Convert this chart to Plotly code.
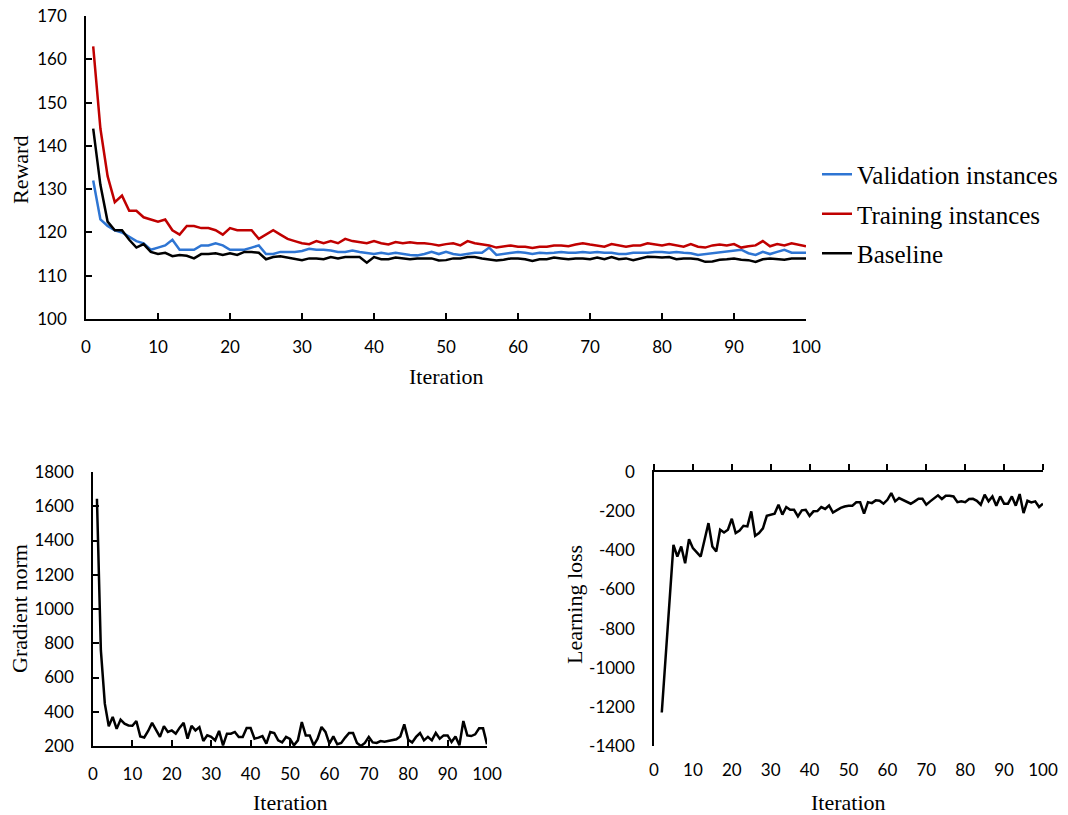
import plotly.graph_objects as go

iterations = list(range(1, 101))

training = [163, 144, 133, 127, 128.5, 125, 125, 123.5, 123, 122.5,
            123, 120.5, 119.5, 121.5, 121.5, 121, 121, 120.5, 119.5, 121,
            120.5, 120.5, 120.5, 118.5, 119.5, 120.5, 119.5, 118.5, 118, 117.5,
            117.3, 118, 117.5, 118, 117.5, 118.5, 118, 117.7, 117.5, 118,
            117.5, 117.2, 117.8, 117.5, 117.7, 117.5, 117.5, 117.3, 117, 117.3,
            117.5, 117, 118, 117.5, 117.2, 117, 116.5, 116.8, 117, 116.7,
            116.7, 116.4, 116.7, 116.7, 117, 117, 116.8, 117.2, 117.5, 117.2,
            117, 116.7, 117.3, 117, 116.7, 117, 117, 117.5, 117.3, 117,
            117.3, 117, 116.7, 117.3, 116.7, 116.5, 117, 117.2, 117, 117.3,
            116.5, 116.8, 117, 118, 116.8, 117.3, 117, 117.5, 117.2, 116.8]

validation = [132, 123, 121.5, 120.5, 120, 119, 118, 117.5, 116, 116.5,
              117, 118.3, 116, 116, 116, 117, 117, 117.5, 117, 116,
              116, 116, 116.5, 117, 115, 115, 115.5, 115.5, 115.5, 115.7,
              116.2, 116, 116, 115.8, 115.5, 115.5, 115.8, 115.5, 115.3, 115,
              115.3, 115, 115.3, 115, 114.8, 114.7, 115, 115.5, 115, 115.5,
              115, 114.8, 115, 115.3, 115.3, 116.5, 114.8, 115, 115.3, 115.5,
              115.3, 115, 115.3, 115.2, 115.3, 115.5, 115.3, 115.3, 115.5, 115.3,
              115.5, 115.3, 115.3, 115, 115, 115.3, 115.3, 115.3, 115.5, 115.5,
              115.3, 115.5, 115.3, 115.2, 114.8, 115, 115.2, 115.5, 115.7, 115.8,
              116, 115.2, 114.8, 115.5, 115, 115.5, 116, 115.3, 115.3, 115.3]

baseline = [144, 131, 122.5, 120.5, 120.5, 118.3, 116.5, 117.3, 115.5, 115,
            115.3, 114.5, 114.8, 114.6, 114, 115, 115, 115.2, 114.8, 115.2,
            114.8, 115.5, 115.5, 115.3, 113.8, 114.3, 114.5, 114.2, 114, 113.6,
            114, 114, 113.8, 114.3, 114, 114.3, 114.3, 114.3, 113, 114.3,
            113.8, 113.8, 114.2, 114, 113.8, 114, 114, 114, 113.5, 113.6,
            114, 114, 114.3, 114.3, 114, 113.7, 113.5, 113.7, 114, 114,
            113.8, 113.4, 113.8, 113.8, 114.2, 114, 113.8, 114, 114, 113.8,
            114.2, 113.8, 114.3, 113.8, 114, 113.6, 114, 114.4, 114.3, 114.2,
            114.3, 113.8, 114, 114, 113.8, 113.2, 113.3, 113.7, 113.8, 114,
            113.7, 113.6, 113.2, 113.8, 114, 113.8, 113.7, 114, 114, 114]

grad_norm = [1644, 758, 447, 315, 370, 300, 354, 330, 320, 318,
             346, 256, 250, 288, 335, 292, 253, 316, 282, 291,
             272, 307, 335, 243, 318, 291, 310, 229, 262, 253,
             233, 288, 204, 272, 272, 282, 253, 253, 305, 305,
             243, 249, 258, 214, 282, 276, 233, 221, 253, 241,
             204, 233, 340, 262, 262, 204, 243, 311, 282, 214,
             256, 210, 218, 249, 276, 276, 218, 200, 218, 253,
             221, 218, 229, 225, 229, 237, 239, 256, 326, 237,
             221, 253, 276, 233, 253, 233, 276, 243, 262, 262,
             223, 256, 204, 346, 262, 258, 268, 303, 303, 210]

loss_iter = list(range(2, 101))
learning_loss = [-1229, -930, -650, -372, -432, -381, -466, -343, -389,
                 -411, -432, -346, -261, -381, -406, -295, -309, -295, -239,
                 -312, -299, -275, -278, -201, -326, -312, -288, -224, -218,
                 -213, -167, -218, -179, -193, -193, -227, -196, -193, -224,
                 -201, -200, -179, -189, -171, -207, -193, -183, -176, -172,
                 -172, -155, -155, -213, -154, -159, -145, -147, -162, -142,
                 -108, -150, -133, -142, -155, -162, -150, -137, -137, -167,
                 -150, -133, -119, -138, -121, -121, -125, -154, -150, -154,
                 -138, -137, -147, -167, -116, -150, -125, -172, -125, -162,
                 -162, -125, -172, -113, -210, -147, -155, -150, -179, -162]

x_ticks = list(range(0, 101, 10))
loss_ticks = list(range(-1400, 1, 200))
loss_ticktext = [str(v) for v in loss_ticks]  # plain hyphen minus, as in the reference

W, H = 1068, 815
def px(x):
    return x / W
def py(y):
    return 1 - y / H

SERIF = "Liberation Serif, Times New Roman, serif"
SANS = "Lato, Open Sans, sans-serif"

fig = go.Figure()
fig.add_trace(go.Scatter(x=iterations, y=validation, mode="lines", name="Validation instances",
                         line=dict(color="#2E75D3", width=2.5), xaxis="x", yaxis="y", legendgroup="a"))
fig.add_trace(go.Scatter(x=iterations, y=training, mode="lines", name="Training instances",
                         line=dict(color="#C00000", width=2.5), xaxis="x", yaxis="y", legendgroup="b"))
fig.add_trace(go.Scatter(x=iterations, y=baseline, mode="lines", name="Baseline",
                         line=dict(color="#000000", width=2.5), xaxis="x", yaxis="y", legendgroup="c"))
fig.add_trace(go.Scatter(x=iterations, y=grad_norm, mode="lines", showlegend=False,
                         line=dict(color="#000000", width=2.5), xaxis="x2", yaxis="y2"))
fig.add_trace(go.Scatter(x=loss_iter, y=learning_loss, mode="lines", showlegend=False,
                         line=dict(color="#000000", width=2.5), xaxis="x3", yaxis="y3"))
fig.add_trace(go.Scatter(x=[None], y=[None], xaxis="x4", yaxis="y3", showlegend=False,
                         hoverinfo="skip"))

tickfont = dict(family=SANS, size=17, color="#000")
common = dict(showgrid=False, zeroline=False, showline=True, linecolor="#000", linewidth=1.5,
              tickcolor="#000", tickwidth=1.5, tickfont=tickfont, fixedrange=True,
              automargin=False)

fig.update_layout(
    width=W, height=H,
    margin=dict(l=0, r=0, t=0, b=0, autoexpand=False),
    paper_bgcolor="white", plot_bgcolor="white",
    showlegend=True,
    legend=dict(x=px(817), y=py(214), xanchor="left", yanchor="middle",
                font=dict(family=SERIF, size=25, color="#000"),
                traceorder="grouped", tracegroupgap=4, itemwidth=30,
                bgcolor="rgba(0,0,0,0)"),
    xaxis=dict(domain=[px(86), px(806)], range=[0, 100], tickvals=x_ticks, anchor="y",
               ticks="inside", ticklen=6, ticklabelstandoff=12, **common),
    yaxis=dict(domain=[py(319), py(16)], range=[100, 170], dtick=10, anchor="x",
               ticks="inside", ticklen=6, ticklabelstandoff=14, **common),
    xaxis2=dict(domain=[px(93), px(487)], range=[0, 100], tickvals=x_ticks, anchor="y2",
                ticks="inside", ticklen=6, ticklabelstandoff=12, **common),
    yaxis2=dict(domain=[py(746), py(472)], range=[200, 1800], dtick=200, anchor="x2",
                ticks="inside", ticklen=6, ticklabelstandoff=14, **common),
    xaxis3=dict(domain=[px(654), px(1043)], range=[0, 100], tickvals=x_ticks, anchor="y3",
                showgrid=False, zeroline=False, showline=False, ticks="", fixedrange=True,
                tickfont=tickfont, ticklabelstandoff=12, automargin=False),
    xaxis4=dict(domain=[px(654), px(1043)], range=[0, 100], tickvals=x_ticks, anchor="y3",
                overlaying="x3", side="top", showticklabels=False,
                ticks="outside", ticklen=6, showgrid=False, zeroline=False, showline=True,
                linecolor="#000", linewidth=1.5, tickcolor="#000", tickwidth=1.5,
                fixedrange=True, automargin=False),
    yaxis3=dict(domain=[py(746), py(472)], range=[-1400, 0], tickvals=loss_ticks,
                ticktext=loss_ticktext, anchor="x3",
                ticks="", ticklabelstandoff=14, **common),
)

titlefont = dict(family=SERIF, size=22, color="#000")
annots = [
    dict(text="Reward", x=px(20), y=py(170), textangle=-90),
    dict(text="Iteration", x=px(446), y=py(376), textangle=0),
    dict(text="Gradient norm", x=px(19), y=py(609), textangle=-90),
    dict(text="Iteration", x=px(290), y=py(802), textangle=0),
    dict(text="Learning loss", x=px(574), y=py(605), textangle=-90),
    dict(text="Iteration", x=px(848), y=py(802), textangle=0),
]
for a in annots:
    fig.add_annotation(xref="paper", yref="paper", showarrow=False, font=titlefont,
                       xanchor="center", yanchor="middle", **a)

fig.write_html(
    "out.html",
    config={"displayModeBar": False},
    post_script="document.body.style.margin='0';document.body.style.padding='0';"
                "document.body.style.overflow='hidden';",
)
